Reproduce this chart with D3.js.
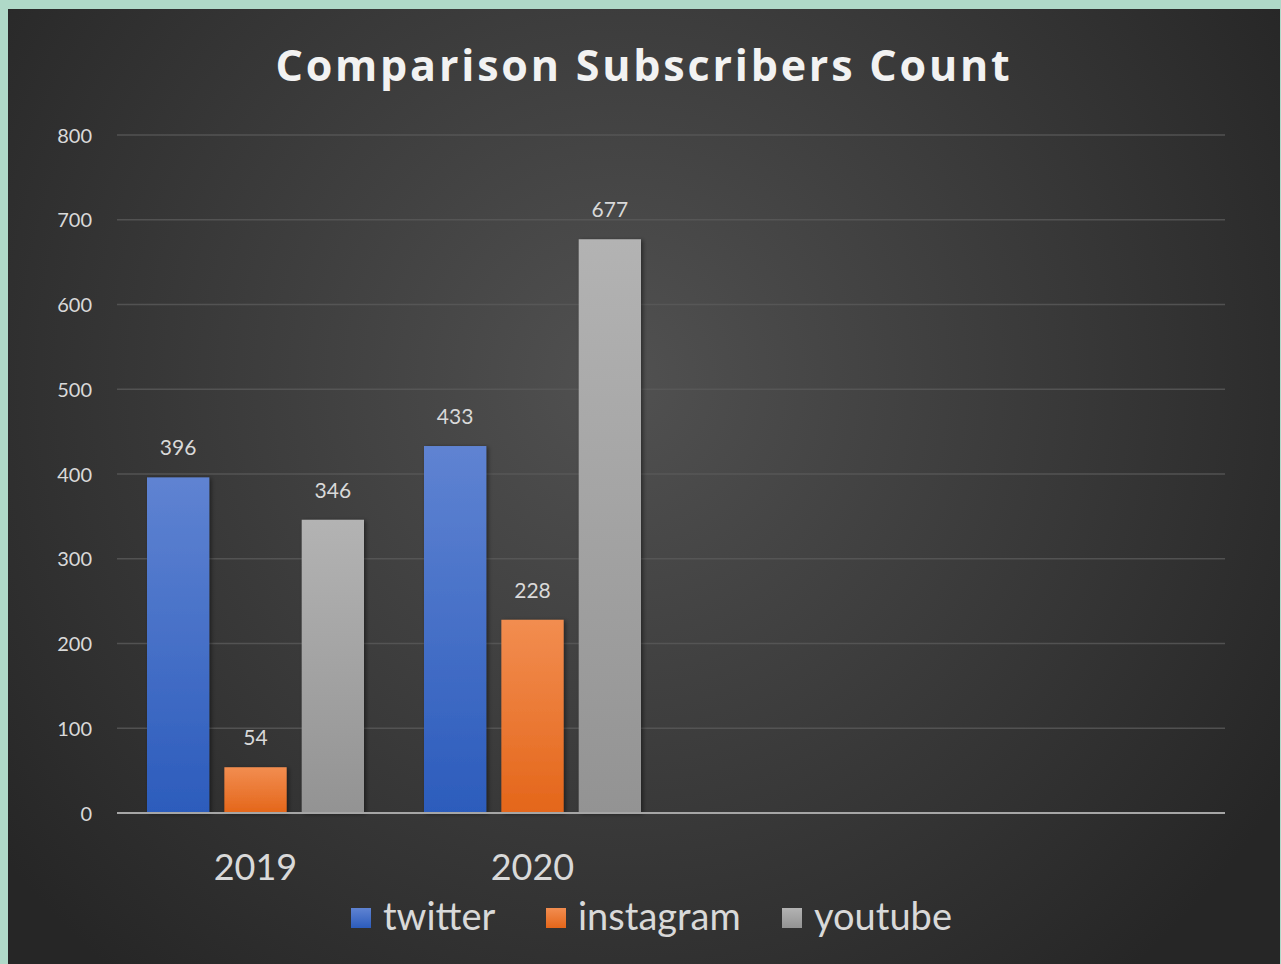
<!DOCTYPE html>
<html><head><meta charset="utf-8">
<script src="https://cdn.jsdelivr.net/npm/d3@7"></script>
<style>html,body{margin:0;padding:0;background:#afd9c8;overflow:hidden}</style>
</head><body><svg id="c" width="1281" height="964"></svg>
<script>
const categories = ["2019", "2020", "", ""];
const seriesNames = ["twitter", "instagram", "youtube"];
const twitter = [396, 433];
const instagram = [54, 228];
const youtube = [346, 677];
const yTicks = [0, 100, 200, 300, 400, 500, 600, 700, 800];
const title = "Comparison Subscribers Count";

const seriesValues = [twitter, instagram, youtube];
const svg = d3.select("#c");
const defs = svg.append("defs");

const bg = defs.append("radialGradient").attr("id","bg").attr("gradientUnits","userSpaceOnUse")
  .attr("cx",620).attr("cy",380).attr("r",780);
bg.append("stop").attr("offset","0").attr("stop-color","#515151");
bg.append("stop").attr("offset","1").attr("stop-color","#262626");

const cols = [["#5f83d2","#2c5cbc"],["#f28d50","#e4661a"],["#b3b3b3","#939393"]];
cols.forEach((c,i)=>{
  const g = defs.append("linearGradient").attr("id","g"+i).attr("x1",0).attr("y1",0).attr("x2",0).attr("y2",1);
  g.append("stop").attr("offset","0").attr("stop-color",c[0]);
  g.append("stop").attr("offset","1").attr("stop-color",c[1]);
});
const sh = defs.append("filter").attr("id","sh").attr("x","-20%").attr("y","-20%").attr("width","140%").attr("height","140%");
sh.append("feDropShadow").attr("dx",2).attr("dy",1).attr("stdDeviation",2).attr("flood-color","#000").attr("flood-opacity",0.45);

svg.append("rect").attr("x",8).attr("y",9).attr("width",1272).attr("height",960).attr("fill","url(#bg)");

svg.append("text").attr("x",644).attr("y",81).attr("text-anchor","middle")
  .attr("font-family","Open Sans").attr("font-weight","bold").attr("font-size",43)
  .attr("letter-spacing",2.8).attr("fill","#f2f2f2").text(title);

const x0 = d3.scaleBand().domain(d3.range(categories.length)).range([117,1225]).paddingInner(0).paddingOuter(0);
const x1 = d3.scaleBand().domain(d3.range(seriesNames.length)).range([30, x0.bandwidth()-30]).paddingInner(0.195);
const y = d3.scaleLinear().domain([0,800]).range([813,135]);

// gridlines
svg.append("g").selectAll("line").data(yTicks.filter(t=>t>0)).join("line")
  .attr("x1",117).attr("x2",1225).attr("y1",d=>y(d)).attr("y2",d=>y(d))
  .attr("stroke","#5a5a5a").attr("stroke-width",1.5).attr("stroke-opacity",0.8);

// y axis labels
const yAxis = d3.axisLeft(y).tickValues(yTicks).tickSize(0).tickPadding(0);
const ya = svg.append("g").attr("transform","translate(92,0)").call(yAxis);
ya.select(".domain").remove();
ya.selectAll("text").attr("font-family","Lato").attr("font-size",20).attr("fill","#d9d9d9").attr("dy","0.35em");

// bars
const data = [];
seriesValues.forEach((vals,s)=>vals.forEach((v,c)=>data.push({s,c,v})));
svg.append("g").selectAll("rect").data(data).join("rect")
  .attr("x",d=>x0(d.c)+x1(d.s)).attr("width",x1.bandwidth())
  .attr("y",d=>y(d.v)).attr("height",d=>y(0)-y(d.v))
  .attr("fill",d=>"url(#g"+d.s+")").attr("filter","url(#sh)");

svg.append("g").selectAll("text").data(data).join("text")
  .attr("x",d=>x0(d.c)+x1(d.s)+x1.bandwidth()/2).attr("y",d=>y(d.v)-22)
  .attr("text-anchor","middle").attr("font-family","Lato").attr("font-size",21)
  .attr("fill","#d9d9d9").text(d=>d.v);

// x axis line
svg.append("line").attr("x1",117).attr("x2",1225).attr("y1",y(0)).attr("y2",y(0))
  .attr("stroke","#a6a6a6").attr("stroke-width",2);

// category labels
const xAxis = d3.axisBottom(x0).tickSize(0).tickPadding(0).tickFormat(i=>categories[i]);
const xa = svg.append("g").attr("transform","translate(0,880)").call(xAxis);
xa.select(".domain").remove();
xa.selectAll("text").attr("font-family","Lato").attr("font-size",36).attr("fill","#d9d9d9").attr("dy",0);

// legend
const legX = [351, 546, 782];
const lg = svg.append("g").selectAll("g").data(seriesNames).join("g")
  .attr("transform",(d,i)=>`translate(${legX[i]},0)`);
lg.append("rect").attr("x",0).attr("y",908).attr("width",20).attr("height",20).attr("fill",(d,i)=>"url(#g"+i+")");
lg.append("text").attr("x",32).attr("y",930).attr("font-family","Lato").attr("font-size",38)
  .attr("fill","#d9d9d9").text(d=>d);
</script></body></html>
